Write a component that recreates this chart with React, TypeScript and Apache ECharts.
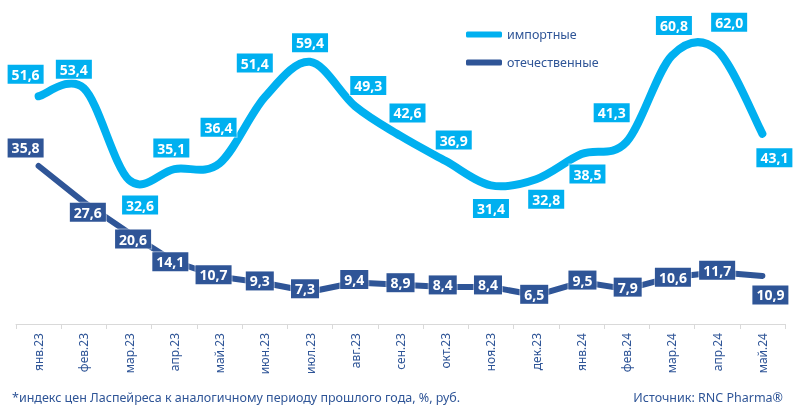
import React, { useEffect, useRef } from 'react';
import * as echarts from 'echarts';

const categories = [
  'янв.23', 'фев.23', 'мар.23', 'апр.23', 'май.23', 'июн.23', 'июл.23', 'авг.23', 'сен.23',
  'окт.23', 'ноя.23', 'дек.23', 'янв.24', 'фев.24', 'мар.24', 'апр.24', 'май.24',
];
const importValues = [51.6, 53.4, 32.6, 35.1, 36.4, 51.4, 59.4, 49.3, 42.6, 36.9, 31.4, 32.8, 38.5, 41.3, 60.8, 62.0, 43.1];
const domesticValues = [35.8, 27.6, 20.6, 14.1, 10.7, 9.3, 7.3, 9.4, 8.9, 8.4, 8.4, 6.5, 9.5, 7.9, 10.6, 11.7, 10.9];

// label placement offsets (dx, dy) relative to the data point
const importLabelOffsets = [
  [-13, -22], [-10, -19], [11, 25], [-3, -21], [-1, -36], [-10, -34], [0, -19], [13, -21], [7, -23],
  [8, -21], [0, 23], [10, 20], [6, 20], [-15, -29], [2, -30], [12, -28], [12, 24],
];
const domesticLabelOffsets = [
  [-13, -18], [4, 10], [4, 6], [-4, 0], [-6, -2], [-5, -2], [-5, -3], [-1, -3], [0, -2],
  [-3, -2], [-3, -2], [-2, -1], [1, -2], [1, -2], [1, 0], [0, -2], [8, 19],
];

const FONT = '"Noto Sans", "Open Sans", sans-serif';
const IMPORT_COLOR = '#00B0F0';
const DOMESTIC_COLOR = '#2F5597';

const fmt = (p: any) => Number(Array.isArray(p.value) ? p.value[1] : p.value).toFixed(1).replace('.', ',');

// Excel-like smoothed curve (Catmull-Rom converted to cubic bezier)
function smoothPath(pts: number[][]): string {
  if (!pts.length) return '';
  let d = `M${pts[0][0]},${pts[0][1]}`;
  for (let i = 0; i < pts.length - 1; i++) {
    const p0 = pts[i - 1] || pts[i];
    const p1 = pts[i];
    const p2 = pts[i + 1];
    const p3 = pts[i + 2] || p2;
    const c1x = p1[0] + (p2[0] - p0[0]) / 6;
    const c1y = p1[1] + (p2[1] - p0[1]) / 6;
    const c2x = p2[0] - (p3[0] - p1[0]) / 6;
    const c2y = p2[1] - (p3[1] - p1[1]) / 6;
    d += ` C${c1x},${c1y} ${c2x},${c2y} ${p2[0]},${p2[1]}`;
  }
  return d;
}

export default function App() {
  const ref = useRef<HTMLDivElement>(null);
  useEffect(() => {
    if (!ref.current) return;
    const chart = echarts.init(ref.current, undefined, { renderer: 'svg' });
    const labelBase = {
      show: true,
      position: 'inside',
      formatter: fmt,
      color: '#ffffff',
      fontWeight: 'bold',
      fontSize: 14,
      fontFamily: FONT,
      padding: [3, 4, 2, 4],
      borderWidth: 1,
      borderColor: 'rgba(255,255,255,0.5)',
    };
    chart.setOption({
      animation: false,
      grid: { left: 16, right: 15, top: 15, bottom: 93, containLabel: false },
      legend: {
        orient: 'vertical',
        left: 461,
        top: 23,
        itemWidth: 36,
        itemHeight: 6,
        itemGap: 15,
        icon: 'roundRect',
        textStyle: { color: DOMESTIC_COLOR, fontSize: 12.5, fontFamily: FONT },
        data: [
          { name: 'импортные', itemStyle: { color: IMPORT_COLOR } },
          { name: 'отечественные', itemStyle: { color: DOMESTIC_COLOR } },
        ],
      },
      xAxis: {
        type: 'category',
        data: categories,
        boundaryGap: true,
        axisLine: { lineStyle: { color: '#D9D9D9', width: 1 } },
        axisTick: { show: true, length: 5, lineStyle: { color: '#D9D9D9' } },
        axisLabel: { rotate: 90, color: DOMESTIC_COLOR, fontSize: 12, fontFamily: FONT, margin: 9 },
      },
      yAxis: {
        type: 'value',
        min: 0,
        max: 70,
        show: false,
        splitLine: { show: false },
      },
      series: [
        {
          name: 'импортные',
          type: 'custom',
          color: IMPORT_COLOR,
          data: importValues.map((v, i) => [i, v]),
          encode: { x: 0, y: 1 },
          z: 2,
          renderItem: (params: any, api: any) => {
            if (params.dataIndex !== 0) return null;
            const pts = importValues.map((v, i) => api.coord([i, v]));
            return {
              type: 'path',
              shape: { pathData: smoothPath(pts) },
              style: { fill: 'none', stroke: IMPORT_COLOR, lineWidth: 8, lineCap: 'round', lineJoin: 'round' },
            };
          },
        },
        {
          name: 'импортные-метки',
          type: 'line',
          symbol: 'circle',
          symbolSize: 1,
          itemStyle: { color: 'transparent' },
          lineStyle: { width: 0, opacity: 0 },
          data: importValues.map((v, i) => ({
            value: v,
            label: { ...labelBase, backgroundColor: IMPORT_COLOR, offset: importLabelOffsets[i] },
          })),
          z: 4,
        },
        {
          name: 'отечественные',
          type: 'line',
          smooth: false,
          symbol: 'circle',
          symbolSize: 1,
          itemStyle: { color: 'transparent' },
          lineStyle: { width: 6, color: DOMESTIC_COLOR, cap: 'round', join: 'round' },
          data: domesticValues.map((v, i) => ({
            value: v,
            label: { ...labelBase, backgroundColor: DOMESTIC_COLOR, offset: domesticLabelOffsets[i] },
          })),
          z: 3,
        },
      ],
      graphic: [
        {
          type: 'text',
          left: 12,
          top: 391,
          style: {
            text: '*индекс цен Ласпейреса к аналогичному периоду прошлого года, %, руб.',
            fill: DOMESTIC_COLOR,
            fontSize: 12.5,
            fontFamily: FONT,
          },
        },
        {
          type: 'text',
          right: 17,
          top: 391,
          style: {
            text: 'Источник: RNC Pharma®',
            fill: DOMESTIC_COLOR,
            fontSize: 12.5,
            fontFamily: FONT,
          },
        },
      ],
    });
    return () => chart.dispose();
  }, []);
  return <div ref={ref} style={{ position: 'fixed', left: 0, top: 0, width: 800, height: 417 }} />;
}
